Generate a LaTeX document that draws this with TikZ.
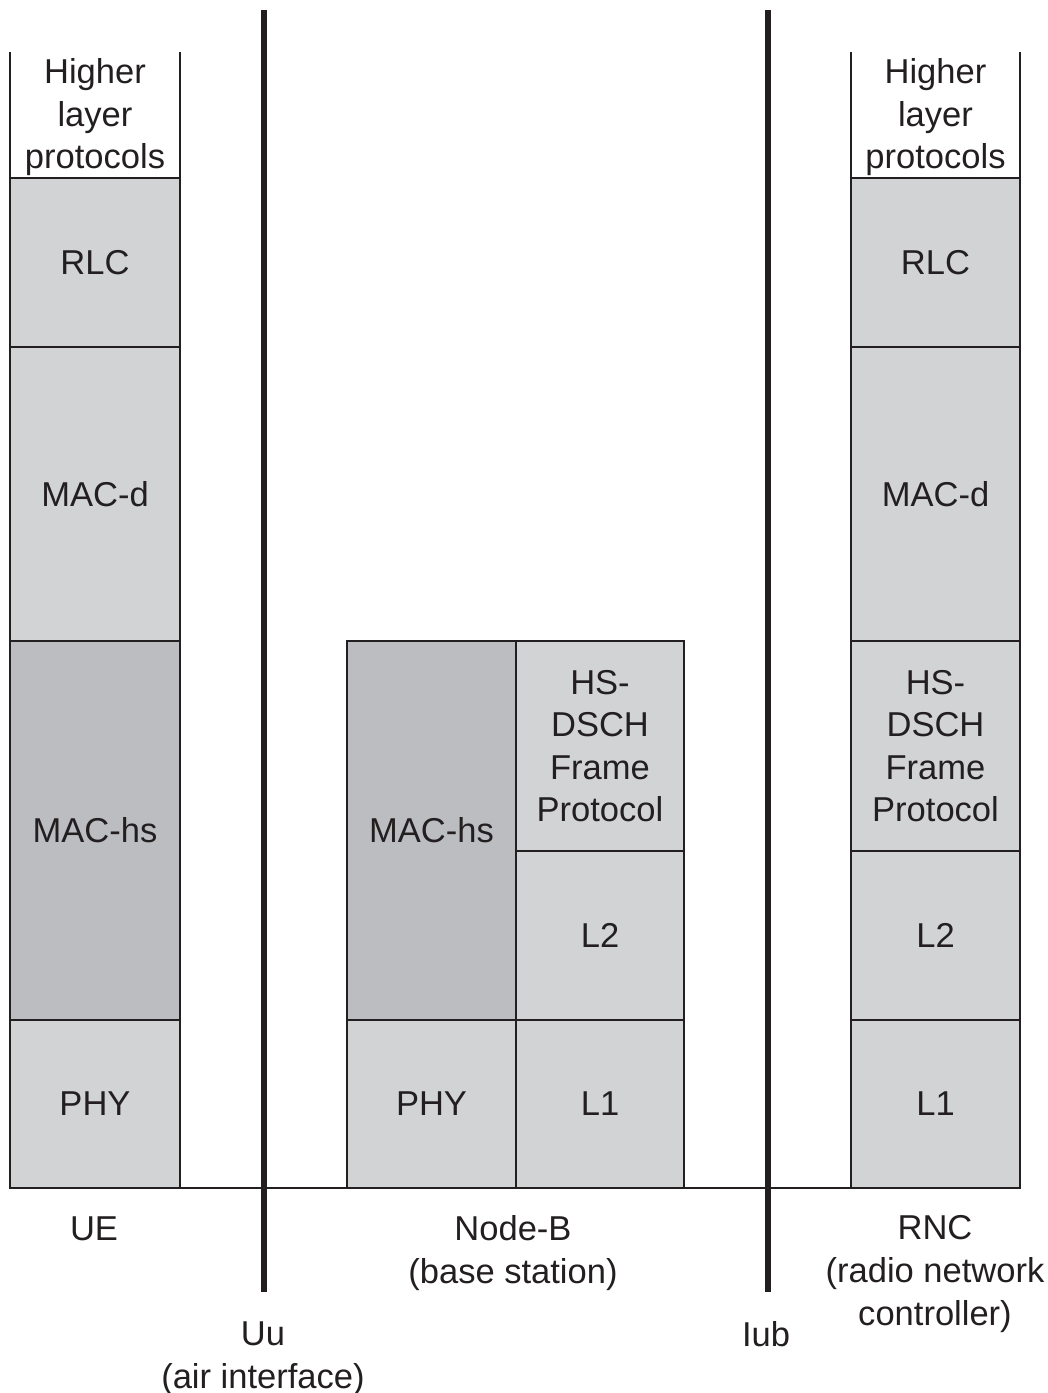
\documentclass[tikz,border=0pt]{standalone}
\usepackage{fontspec}
\setmainfont{Liberation Sans}
\definecolor{lightg}{HTML}{D1D3D4}
\definecolor{darkg}{HTML}{BCBDC0}
\definecolor{ink}{HTML}{231F20}
\begin{document}
\begin{tikzpicture}[x=0.75pt,y=-0.75pt,
  every node/.style={font=\fontsize{25.9}{31.9}\selectfont, text=ink, align=center, inner sep=0pt, outer sep=0pt},
  layer/.style={draw=ink, line width=2.2pt, fill=lightg},
  dlayer/.style={layer, fill=darkg},
  w1/.style={minimum width=127.5pt},
  w2/.style={minimum width=126.75pt},
  w3/.style={minimum width=126pt},
  iface/.style={draw=ink, line width=4.6pt},
  lbl/.style={anchor=base}]
\useasboundingbox (0,0) rectangle (1047,1393);
% UE stack
\node[w1, minimum height=94.5pt] (uehl) at (95,115) {};
\node (uehltext) at (95,117.5) {Higher\\layer\\protocols};
\node[layer, w1, minimum height=126.75pt] (uerlc) at (95,262.5) {RLC};
\node[layer, w1, minimum height=220.5pt] (uemacd) at (95,494) {MAC-d};
\node[dlayer, w1, minimum height=284.25pt] (uemachs) at (95,830.5) {MAC-hs};
\node[layer, w1, minimum height=126pt] (uephy) at (95,1104) {PHY};
\draw[ink, line width=2.2pt] (uehl.north west) -- (uehl.south west) (uehl.north east) -- (uehl.south east);
% Node-B stack
\node[dlayer, w2, minimum height=284.25pt] (nbmachs) at (431.5,830.5) {MAC-hs};
\node[layer, w2, minimum height=126pt] (nbphy) at (431.5,1104) {PHY};
\node[layer, w3, minimum height=157.5pt] (nbfp) at (600,746) {HS-\\DSCH\\Frame\\Protocol};
\node[layer, w3, minimum height=126.75pt] (nbl2) at (600,935.5) {L2};
\node[layer, w3, minimum height=126pt] (nbl1) at (600,1104) {L1};
% RNC stack
\node[w2, minimum height=94.5pt] (rnchl) at (935.5,115) {};
\node (rnchltext) at (935.5,117.5) {Higher\\layer\\protocols};
\node[layer, w2, minimum height=126.75pt] (rncrlc) at (935.5,262.5) {RLC};
\node[layer, w2, minimum height=220.5pt] (rncmacd) at (935.5,494) {MAC-d};
\node[layer, w2, minimum height=157.5pt] (rncfp) at (935.5,746) {HS-\\DSCH\\Frame\\Protocol};
\node[layer, w2, minimum height=126.75pt] (rncl2) at (935.5,935.5) {L2};
\node[layer, w2, minimum height=126pt] (rncl1) at (935.5,1104) {L1};
\draw[ink, line width=2.2pt] (rnchl.north west) -- (rnchl.south west) (rnchl.north east) -- (rnchl.south east);
% common ground line
\draw[ink, line width=2.2pt] (uephy.south west) -- (rncl1.south east);
% interfaces
\coordinate (uutop) at (264,10);
\coordinate (uubot) at (264,1292);
\coordinate (iubtop) at (768,10);
\coordinate (iubbot) at (768,1292);
\draw[iface] (uutop) -- (uubot);
\draw[iface] (iubtop) -- (iubbot);
% labels (base = baseline of last line)
\node[lbl] (ue) at (94,1240) {UE};
\node[lbl] (nb) at (513,1283) {Node-B\\(base station)};
\node[lbl] (rnc) at (935,1325) {RNC\\(radio network\\controller)};
\node[lbl] (uu) at (263,1388) {Uu\\(air interface)};
\node[lbl] (iub) at (766,1346) {Iub};
\end{tikzpicture}
\end{document}
